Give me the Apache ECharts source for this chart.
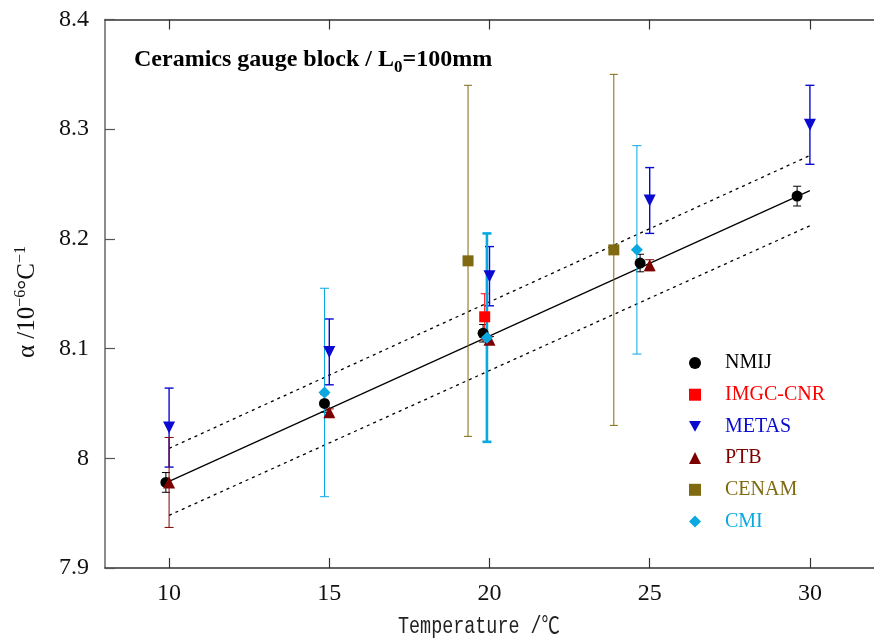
<!DOCTYPE html>
<html>
<head>
<meta charset="utf-8">
<script src="https://cdn.jsdelivr.net/npm/echarts@6/dist/echarts.min.js"></script>
<style>
  html, body { margin: 0; padding: 0; background: #fff; }
  #chart { width: 874px; height: 642px; }
</style>
</head>
<body>
<div id="chart"></div>
<script>
// Thermal expansion coefficient of a ceramic gauge block, per laboratory
const xTicks = [10, 15, 20, 25, 30];

const nmijT   = [9.9, 14.85, 19.8, 24.7, 29.6];
const nmijA   = [7.978, 8.050, 8.114, 8.178, 8.239];
const nmijU   = [0.009, 0.008, 0.008, 0.008, 0.009];

const imgcT   = [19.85];
const imgcA   = [8.129];
const imgcU   = [0.021];

const metasT  = [10, 15, 20, 25, 30];
const metasA  = [8.028, 8.097, 8.166, 8.235, 8.304];
const metasU  = [0.036, 0.030, 0.027, 0.030, 0.036];

const ptbT    = [10, 15, 20, 25];
const ptbA    = [7.978, 8.042, 8.108, 8.176];
const ptbU    = [0.041, 0.003, 0.003, 0.005];

const cenamT  = [19.33, 23.88];
const cenamA  = [8.180, 8.190];
const cenamU  = [0.160, 0.160];

const cmiT    = [14.85, 19.92, 24.6];
const cmiA    = [8.060, 8.110, 8.190];
const cmiU    = [0.095, 0.095, 0.095];

// linear fit and its bounds, evaluated at the ends of the range
const fitT    = [10, 30];
const fitA    = [7.979, 8.244];
const fitHi   = [8.009, 8.276];
const fitLo   = [7.948, 8.212];

const zip = (...cols) => cols[0].map((_, i) => cols.map(c => c[i]));

const serif = '"Liberation Serif", "Times New Roman", serif';

// downward-pointing triangle for the legend
const downTriangle = 'path://M0,0 L10,0 L5,9 Z';

const labs = [
  { name: 'NMIJ',      t: nmijT,  a: nmijA,  u: nmijU,  color: '#000000', symbol: 'circle',   size: 11, cap: 8 },
  { name: 'IMGC-CNR',  t: imgcT,  a: imgcA,  u: imgcU,  color: '#ff0000', symbol: 'rect',     size: 11, cap: 8 },
  { name: 'METAS',     t: metasT, a: metasA, u: metasU, color: '#0a0ad0', symbol: 'triangle', size: 12, cap: 9, rotate: 180, lw: 1.4, legendIcon: downTriangle },
  { name: 'PTB',       t: ptbT,   a: ptbA,   u: ptbU,   color: '#7d0000', symbol: 'triangle', size: 12, cap: 9 },
  { name: 'CENAM',     t: cenamT, a: cenamA, u: cenamU, color: '#7f6a12', symbol: 'rect',     size: 11, cap: 8 },
  { name: 'CMI',       t: cmiT,   a: cmiA,   u: cmiU,   color: '#0aa8e0', symbol: 'diamond',  size: 12, cap: 9, boldIndex: 1 }
];

function errorBarRenderer(lab) {
  return function (params, api) {
    const x = api.value(0), y = api.value(1), e = api.value(2);
    const top = api.coord([x, y + e]);
    const bot = api.coord([x, y - e]);
    const half = lab.cap / 2;
    const lw = (lab.boldIndex === params.dataIndex) ? 2.6 : (lab.lw || 1);
    const style = { stroke: lab.color, lineWidth: lw };
    return {
      type: 'group',
      children: [
        { type: 'line', shape: { x1: top[0], y1: top[1], x2: bot[0], y2: bot[1] }, style },
        { type: 'line', shape: { x1: top[0] - half, y1: top[1], x2: top[0] + half, y2: top[1] }, style },
        { type: 'line', shape: { x1: bot[0] - half, y1: bot[1], x2: bot[0] + half, y2: bot[1] }, style }
      ]
    };
  };
}

const series = [
  { type: 'line', name: 'fit', data: zip(fitT, fitA), symbol: 'none', silent: true,
    lineStyle: { color: '#000', width: 1.2 }, z: 1 },
  { type: 'line', name: 'fit+', data: zip(fitT, fitHi), symbol: 'none', silent: true,
    lineStyle: { color: '#000', width: 1.3, type: [3, 4] }, z: 1 },
  { type: 'line', name: 'fit-', data: zip(fitT, fitLo), symbol: 'none', silent: true,
    lineStyle: { color: '#000', width: 1.3, type: [3, 4] }, z: 1 }
];

labs.forEach(lab => {
  series.push({
    type: 'custom', name: lab.name + ' u', data: zip(lab.t, lab.a, lab.u),
    renderItem: errorBarRenderer(lab), encode: { x: 0, y: 1 }, z: 2, silent: true
  });
});
labs.forEach(lab => {
  series.push({
    type: 'scatter', name: lab.name, data: zip(lab.t, lab.a),
    symbol: lab.symbol, symbolSize: lab.size, symbolRotate: lab.rotate || 0,
    itemStyle: { color: lab.color, opacity: 1 }, z: 3
  });
});

const axisLineStyle = { color: '#333', width: 1.5 };

const option = {
  animation: false,
  backgroundColor: '#fff',
  grid: { left: 105, top: 19.5, width: 773, height: 548.5, containLabel: false },
  xAxis: [
    {
      type: 'value', position: 'bottom', min: 8, max: 32,
      axisLine: { show: true, onZero: false, lineStyle: axisLineStyle },
      axisTick: { show: true, inside: true, length: 10, customValues: xTicks, lineStyle: { color: '#333', width: 1.2 } },
      axisLabel: { customValues: xTicks, margin: 14, color: '#111', fontFamily: serif, fontSize: 24 },
      splitLine: { show: false }
    },
    {
      type: 'value', position: 'top', min: 8, max: 32,
      axisLine: { show: true, onZero: false, lineStyle: axisLineStyle },
      axisTick: { show: true, inside: true, length: 10, customValues: xTicks, lineStyle: { color: '#333', width: 1.2 } },
      axisLabel: { show: false },
      splitLine: { show: false }
    }
  ],
  yAxis: {
    type: 'value', min: 7.9, max: 8.4, interval: 0.1,
    axisLine: { show: true, onZero: false, lineStyle: { color: '#666', width: 1.5 } },
    axisTick: { show: true, inside: true, length: 10, lineStyle: { color: '#555', width: 1.2 } },
    axisLabel: { margin: 16, color: '#111', fontFamily: serif, fontSize: 24,
      formatter: v => String(Math.round(v * 10) / 10) },
    splitLine: { show: false }
  },
  legend: {
    orient: 'vertical', left: 684, top: 348,
    itemWidth: 12, itemHeight: 12, itemGap: 11.7,
    textStyle: { fontFamily: serif, fontSize: 20, lineHeight: 20, padding: [0, 0, 0, 19] },
    data: labs.map(l => {
      const item = { name: l.name, textStyle: { color: l.color } };
      if (l.legendIcon) item.icon = l.legendIcon;
      return item;
    })
  },
  graphic: [
    {
      type: 'text', left: 134, top: 43,
      style: {
        text: '{b|Ceramics gauge block / L}{s|0}{b|=100mm}',
        rich: {
          b: { fontFamily: serif, fontWeight: 'bold', fontSize: 24, fill: '#000', lineHeight: 28 },
          s: { fontFamily: serif, fontWeight: 'bold', fontSize: 17, fill: '#000', lineHeight: 28, padding: [16, 0, 0, 0] }
        }
      }
    },
    {
      type: 'text', x: 13, y: 358, rotation: Math.PI / 2,
      style: {
        text: '{m|α /10}{p|−6}{m|°C}{p|−1}',
        rich: {
          m: { fontFamily: serif, fontSize: 25, fill: '#111', lineHeight: 28 },
          p: { fontFamily: serif, fontSize: 16, fill: '#111', lineHeight: 28, padding: [0, 0, 12, 0] }
        }
      }
    },
    {
      type: 'text', x: 398, y: 615, scaleX: 0.8, scaleY: 1,
      style: {
        text: 'Temperature /℃',
        fontFamily: '"Liberation Mono", "Noto Sans CJK SC", monospace',
        fontSize: 23, fill: '#222'
      }
    }
  ],
  series
};

const chart = echarts.init(document.getElementById('chart'), null, { renderer: 'canvas' });
chart.setOption(option);
</script>
</body>
</html>
